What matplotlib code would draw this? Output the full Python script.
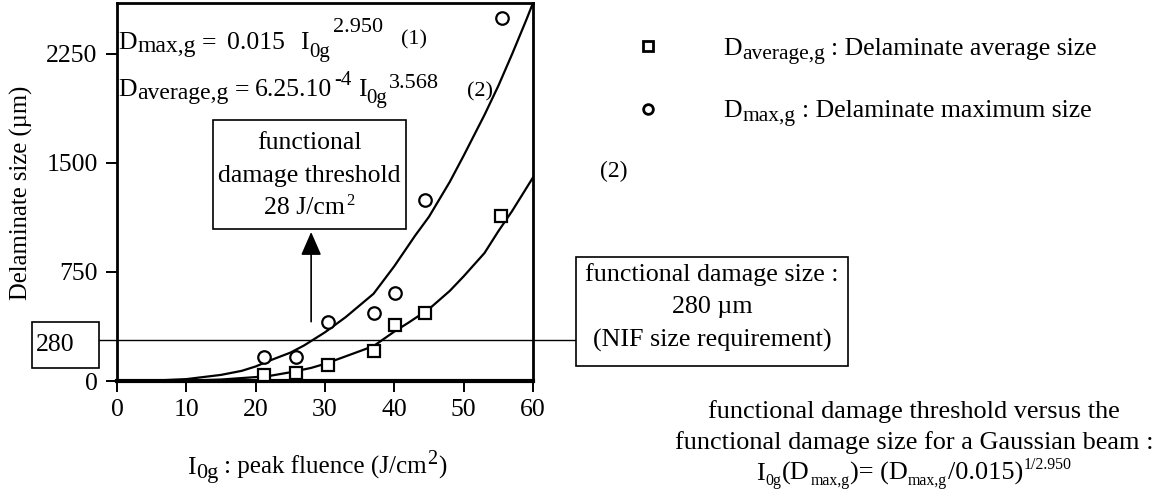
import matplotlib
matplotlib.use('Agg')
import matplotlib.pyplot as plt
from matplotlib.lines import Line2D
from matplotlib.patches import Rectangle

plt.rcParams['font.family'] = ['Liberation Serif', 'DejaVu Serif']

# ---- data ----
fluence_max = [21.2, 25.8, 30.5, 37.0, 40.1, 44.4, 55.5]
d_max = [167, 167, 408, 470, 608, 1246, 2496]
fluence_avg = [21.2, 25.8, 30.5, 37.0, 40.1, 44.4, 55.4]
d_avg = [41, 53, 110, 206, 385, 470, 1136]

fit_max_x = [0, 5, 10, 15, 18, 20, 22, 25, 27, 30, 33, 35, 37, 40, 43, 45, 48, 50, 53, 55, 57, 59, 60]
fit_max_y = [0, 2, 13, 42, 70, 100, 140, 195, 245, 335, 440, 520, 600, 790, 1000, 1130, 1370, 1550, 1830, 2030, 2250, 2480, 2600]
fit_avg_x = [0, 10, 15, 20, 22, 25, 28, 30, 33, 35, 37, 40, 42, 45, 48, 50, 53, 55, 57, 60]
fit_avg_y = [0, 2, 10, 27, 35, 60, 90, 118, 170, 205, 240, 340, 400, 495, 620, 720, 880, 1030, 1170, 1400]

x_ticks = [0, 10, 20, 30, 40, 50, 60]
y_ticks = [0, 750, 1500, 2250]
threshold_fluence = 28
size_requirement = 280

W, H = 1162, 501
fig = plt.figure(figsize=(W / 100, H / 100), dpi=100)
renderer = fig.canvas.get_renderer()


def fx(px):
    return px / W


def fy(py):
    return 1 - py / H


def put(x, y, s, size, **kw):
    kw.setdefault('ha', 'left')
    kw.setdefault('va', 'baseline')
    return fig.text(fx(x), fy(y), s, fontsize=size, **kw)


def seq(x0, y0, pieces, center=False, zorder=3):
    """pieces: (text, size, dy, gap_before) laid out left to right"""
    arts = []
    for s, size, dy, gap in pieces:
        t = fig.text(0, 0, s, fontsize=size, ha='left', va='baseline', zorder=zorder)
        arts.append((t, dy, gap, t.get_window_extent(renderer).width))
    total = sum(w + g for _, _, g, w in arts)
    x = x0 - total / 2 if center else x0
    for t, dy, gap, w in arts:
        x += gap
        t.set_position((fx(x), fy(y0 + dy)))
        x += w


ax = fig.add_axes([fx(117), fy(381), fx(533) - fx(117), fy(3) - fy(381)])
ax.set_xlim(0, 60)
ax.set_ylim(0, 2600)
ax.set_xticks(x_ticks)
ax.set_yticks(y_ticks)
ax.tick_params(direction='out', length=8, width=1.4, labelsize=18.5, colors='black')
ax.tick_params(axis='y', pad=6)
ax.tick_params(axis='x', pad=5)
for side in ['left', 'right', 'top']:
    ax.spines[side].set_linewidth(2.0)
ax.spines['bottom'].set_linewidth(3.0)

ax.plot(fit_max_x, fit_max_y, color='black', lw=1.6, zorder=3)
ax.plot(fit_avg_x, fit_avg_y, color='black', lw=1.6, zorder=3)
ax.plot(fluence_max, d_max, linestyle='none', marker='o', ms=9, mfc='white', mec='black', mew=1.6,
        clip_on=False, zorder=5)
ax.plot(fluence_avg, d_avg, linestyle='none', marker='s', ms=9, mfc='white', mec='black', mew=1.6,
        clip_on=False, zorder=5)

# horizontal line at the size requirement (extends outside the axes)
ax.axhline(size_requirement, xmin=(98 - 117) / 416, xmax=(576 - 117) / 416, color='black', lw=1.0,
           clip_on=False, zorder=2)

# arrow at the functional damage threshold
ax.annotate('', xy=(threshold_fluence, 1025), xytext=(threshold_fluence, 408),
            arrowprops=dict(arrowstyle='-|>,head_length=0.8,head_width=0.35', color='black', lw=1.2,
                            mutation_scale=18, shrinkA=0, shrinkB=0))

# axis labels
fig.text(fx(21), fy(193), 'Delaminate size (µm)', rotation=90, ha='center', va='center', fontsize=17.7)
seq(187, 474, [('I', 18.5, 0, 0), ('0g', 16, 4, 1), (': peak fluence (J/cm', 18, 0, 5),
               ('2', 14.5, -10, 1), (')', 18, 0, 1)])

# formulas inside axes
seq(118, 49, [('D', 18.5, 0, 0), ('max,g', 17, 3, 1), ('=', 18.5, 0, 6), ('0.015', 18.5, 0, 10),
              ('I', 18.5, 0, 16), ('0g', 15, 8, 0), ('2.950', 16, -17, 3)])
put(401, 44, '(1)', 16)
seq(118, 96, [('D', 18.5, 0, 0), ('average,g', 17, 3, 1), ('=', 18.5, 0, 6), ('6.25.10', 18.5, 0, 6),
              ('-4', 15, -11, 2), ('I', 18.5, 0, 6), ('0g', 15, 7, 0), ('3.568', 16, -8, 2)])
put(467, 96, '(2)', 16)

# threshold box
fig.add_artist(Rectangle((fx(213), fy(229)), fx(406) - fx(213), fy(120) - fy(229), transform=fig.transFigure,
                         fc='white', ec='black', lw=1.2, zorder=4))
put(309.5, 143, 'functional', 18.5, ha='center', va='center', zorder=5)
put(309.5, 176, 'damage threshold', 18.5, ha='center', va='center', zorder=5)
seq(309.5, 214, [('28 J/cm', 18.5, 0, 0), ('2', 12, -9, 1)], center=True, zorder=5)

# 280 box
fig.add_artist(Rectangle((fx(32), fy(368)), fx(99) - fx(32), fy(322) - fy(368), transform=fig.transFigure,
                         fc='white', ec='black', lw=1.2, zorder=4))
put(36, 345, '280', 18.5, va='center', zorder=5)

# functional damage size box
fig.add_artist(Rectangle((fx(576), fy(366)), fx(848) - fx(576), fy(257) - fy(366), transform=fig.transFigure,
                         fc='white', ec='black', lw=1.2, zorder=4))
for py, s in [(275, 'functional damage size :'), (307, '280 µm'), (340, '(NIF size requirement)')]:
    put(712, py, s, 18.7, ha='center', va='center', zorder=5)

# legend
fig.add_artist(Line2D([fx(648)], [fy(46)], transform=fig.transFigure, marker='s', ms=7, mfc='white',
                      mec='black', mew=2, linestyle='none'))
fig.add_artist(Line2D([fx(648)], [fy(109)], transform=fig.transFigure, marker='o', ms=7, mfc='white',
                      mec='black', mew=2, linestyle='none'))
seq(723, 55, [('D', 18.5, 0, 0), ('average,g', 15.5, 4, 1), (': Delaminate average size', 18.5, 0, 6)])
seq(723, 117, [('D', 18.5, 0, 0), ('max,g', 15.5, 4, 1), (': Delaminate maximum size', 18.5, 0, 6)])
put(600, 171, '(2)', 17, va='center')

# bottom-right caption
put(914, 418, 'functional damage threshold versus the', 18.9, ha='center')
put(914, 449, 'functional damage size for a Gaussian beam :', 18.9, ha='center')
seq(914, 480, [('I', 18.9, 0, 0), ('0g', 11.4, 5, 0.5), ('(D', 18.9, 0, 0.5), ('max,g', 11.4, 5, 0.5),
               (')= (D', 18.9, 0, 0.5), ('max,g', 11.4, 5, 0.5), ('/0.015)', 18.9, 0, 0.5),
               ('1/2.950', 11.4, -11, 0.5)], center=True)

fig.savefig('out.png', dpi=100)
